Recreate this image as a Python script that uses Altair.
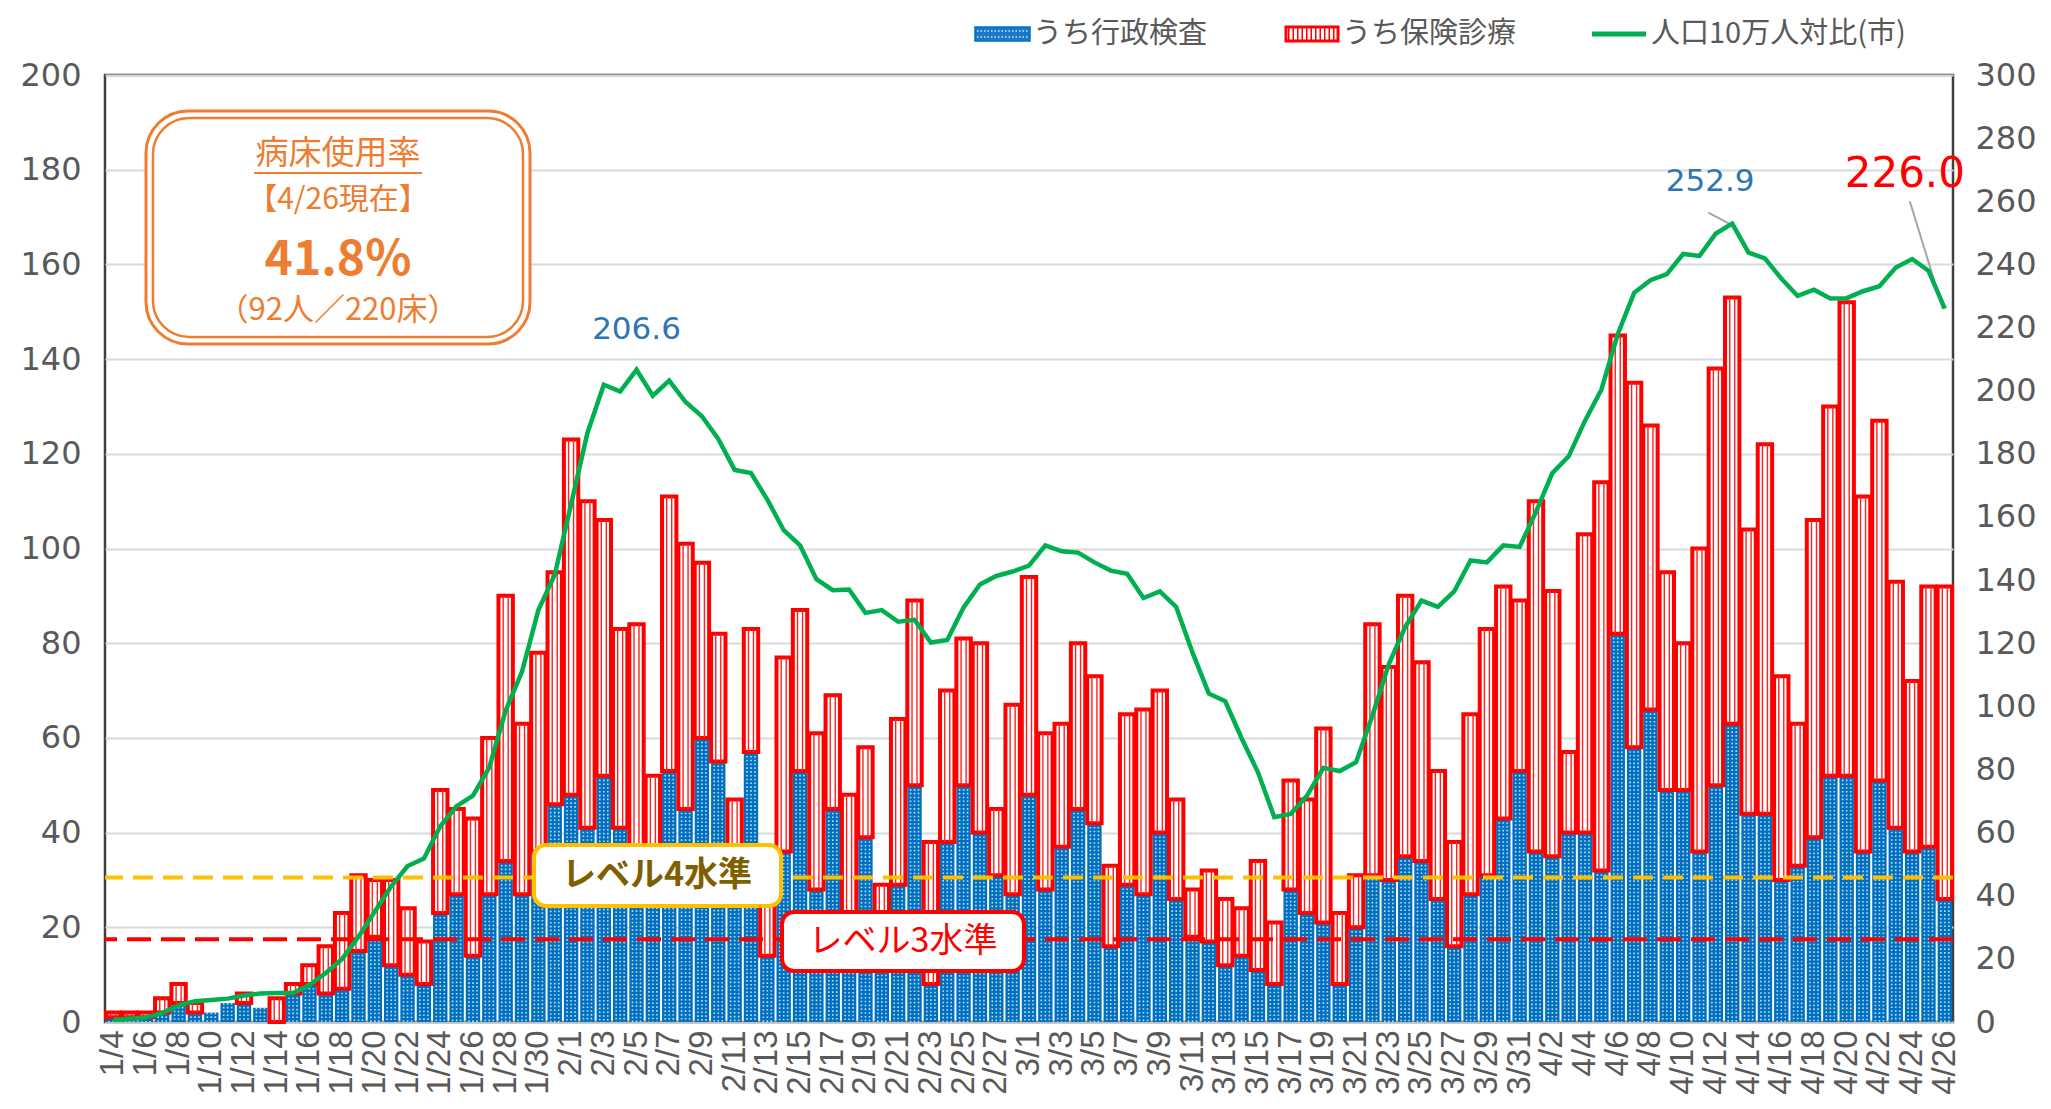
import altair as alt
import pandas as pd

# ---------------- data ----------------
dates = [f"{d.month}/{d.day}" for d in pd.date_range("2021-01-04", "2021-04-26")]

total = [2, 2, 2, 5, 8, 4, 2, 4, 6, 3, 5, 8, 12, 16, 23, 31, 30, 30, 24, 17, 49, 45, 43, 60, 90, 63, 78, 95,
         123, 110, 106, 83, 84, 52, 111, 101, 97, 82, 47, 83, 36, 77, 87, 61, 69, 48, 58, 29, 64, 89, 38, 70, 81, 80, 45, 67,
         94, 61, 63, 80, 73, 33, 65, 66, 70, 47, 28, 32, 26, 24, 34, 21, 51, 47, 62, 23, 31, 84, 75, 90, 76, 53, 38, 65, 83, 92, 89,
         110, 91, 57, 103, 114, 145, 135, 126, 95, 80, 100, 138, 153, 104, 122, 73, 63, 106, 130, 152, 111, 127, 93, 72, 92, 92]

gyosei = [1, 1, 1, 2, 4, 2, 2, 4, 4, 3, 0, 6, 8, 6, 7, 15, 18, 12, 10, 8, 23, 27, 14, 27, 34, 27, 36, 46,
          48, 41, 52, 41, 30, 29, 53, 45, 60, 55, 31, 57, 14, 36, 53, 28, 45, 20, 39, 18, 29, 50, 8, 38, 50, 40, 31, 27,
          48, 28, 37, 45, 42, 16, 29, 27, 40, 26, 18, 17, 12, 14, 11, 8, 28, 23, 21, 8, 20, 31, 30, 35, 34, 26, 16, 27, 31, 43, 53,
          36, 35, 40, 40, 32, 82, 58, 66, 49, 49, 36, 50, 63, 44, 44, 30, 33, 39, 52, 52, 36, 51, 41, 36, 37, 26]

rate = [0.6, 1.0, 1.4, 2.9, 5.3, 6.6, 7.0, 7.4, 8.4, 9.0, 9.2, 9.2, 11.7, 15.5, 20, 27, 35, 43, 49.4, 51.8, 62, 68.4, 71.7, 80.7, 98.7, 111, 130.5, 141.7,
        164, 186.6, 201.9, 199.7, 206.6, 198.4, 203.2, 196.4, 191.9, 184.7, 174.9, 173.9, 165.5, 155.8, 151, 140.3, 136.8, 137, 129.6, 130.5, 126.8, 127.4, 120.2, 121, 131.3, 138.6, 141.3, 142.7,
        144.6, 151, 149.1, 148.7, 145.6, 143, 142, 134.3, 136.4, 131.5, 117, 104, 101.6, 89.9, 79.1, 64.9, 65.9, 71.7, 80.5, 79.5, 82.3, 97.1, 113.3, 125.1, 133.5, 131.5, 136.4, 146.2, 145.6, 151, 150.5,
        161.6, 173.9, 179.2, 190.5, 200.3, 217.9, 231, 235, 236.9, 243.3, 242.7, 249.8, 252.9, 243.7, 241.9, 235.5, 230, 232, 229.2, 229.3, 231.5, 233.1, 239, 241.7, 238, 226.0]

level4 = 30.5
level3 = 17.5

legend_labels = ["うち行政検査", "うち保険診療", "人口10万人対比(市)"]
box_lines = ["病床使用率", "【4/26現在】", "41.8%", "（92人／220床）"]
level_labels = ["レベル4水準", "レベル3水準"]

df = pd.DataFrame({"date": dates, "total": total, "gyosei": gyosei, "rate": rate})

# ---------------- styles ----------------
W, H = 1848, 947
BLUE = "#0070C0"
RED = "#FF0000"
GREEN = "#00B050"
ORANGE = "#ED7D31"
GOLD = "#FFC000"
GRAY = "#595959"
JP = "Noto Sans CJK JP"
NUM = "DejaVu Sans"

xaxis = alt.Axis(values=dates[::2], labelAngle=270, labelFont="Liberation Sans", labelFontSize=33,
                 labelColor=GRAY, ticks=False, domainColor="#BFBFBF", domainWidth=2, labelPadding=8,
                 title=None)
xscale = alt.Scale(domain=dates, paddingInner=0.12, paddingOuter=0.06)


def X():
    return alt.X("date:N", sort=dates, scale=xscale, axis=xaxis)


lscale = alt.Scale(domain=[0, 200], nice=False, zero=True)
laxis = alt.Axis(values=list(range(0, 201, 20)), grid=True, gridColor="#D9D9D9", gridWidth=2,
                 domain=False, ticks=False, labelFont=NUM, labelFontSize=32, labelColor=GRAY,
                 labelPadding=24, title=None)
rscale = alt.Scale(domain=[0, 300], nice=False, zero=True)
raxis = alt.Axis(values=list(range(0, 301, 20)), grid=False, orient="right",
                 domain=False, ticks=False, labelFont=NUM, labelFontSize=32, labelColor=GRAY,
                 labelPadding=22, title=None)


def YL(field):
    return alt.Y(field, scale=lscale, axis=laxis, title=None)


def YR(field):
    return alt.Y(field, scale=rscale, axis=raxis, title=None)


base = alt.Chart(df)

# blue bars (行政検査) with dotted white pattern
blue = base.mark_bar(color=BLUE).encode(x=X(), y=YL("gyosei:Q"), y2=alt.datum(0))
blue_dots = [
    base.mark_rule(color="white", strokeWidth=1.6, strokeDash=[1.6, 2.2], opacity=0.75, xOffset=off)
    .encode(x=X(), y=YL("gyosei:Q"), y2=alt.datum(0))
    for off in (-4, 0, 4)
]

# red bars (保険診療) stacked on top
redbase = base.transform_filter("datum.total > datum.gyosei")
red = redbase.mark_bar(fill="white", stroke=RED, strokeWidth=4).encode(
    x=X(), y=YL("total:Q"), y2="gyosei:Q")
red_stripes = [
    redbase.mark_rule(color="#FF2020", strokeWidth=1.4, xOffset=off)
    .encode(x=X(), y=YL("total:Q"), y2="gyosei:Q")
    for off in (-2.5, 2.5)
]

# level lines
lv4 = alt.Chart(pd.DataFrame({"v": [level4]})).mark_rule(
    color=GOLD, strokeWidth=4, strokeDash=[20, 10]).encode(y=YL("v:Q"))
lv3 = alt.Chart(pd.DataFrame({"v": [level3]})).mark_rule(
    color=RED, strokeWidth=4, strokeDash=[24, 10]).encode(y=YL("v:Q"))

one = pd.DataFrame({"a": [0]})


def rect(x1, x2, y1, y2, **kw):
    return alt.Chart(one).mark_rect(**kw).encode(
        x=alt.value(x1), x2=alt.value(x2), y=alt.value(y1), y2=alt.value(y2))


def text(t, x, y, **kw):
    return alt.Chart(one).mark_text(text=t, **kw).encode(x=alt.value(x), y=alt.value(y))


def hline(x1, x2, y, **kw):
    return alt.Chart(one).mark_rule(**kw).encode(
        x=alt.value(x1), x2=alt.value(x2), y=alt.value(y))


# level label boxes
lv4_box = rect(429, 676, 770, 831, fill="white", stroke=GOLD, strokeWidth=4, cornerRadius=12)
lv4_txt = text(level_labels[0], 552, 801, font=JP, fontSize=34, fontWeight="bold", color="#7F6000",
               align="center", baseline="middle")
lv3_box = rect(677, 919, 837, 896, fill="white", stroke=RED, strokeWidth=4, cornerRadius=12)
lv3_txt = text(level_labels[1], 798, 867, font=JP, fontSize=34, color=RED,
               align="center", baseline="middle")

# bed occupancy box
bx_out = rect(41, 425, 36, 269, fill="white", stroke=ORANGE, strokeWidth=3, cornerRadius=42)
bx_in = rect(48, 418, 43, 262, fillOpacity=0, stroke=ORANGE, strokeWidth=2.5, cornerRadius=36)
bt1 = text(box_lines[0], 233, 79, font=JP, fontSize=33, color=ORANGE, align="center", baseline="middle")
bt1u = hline(149, 317, 98, color=ORANGE, strokeWidth=2)
bt2 = text(box_lines[1], 233, 125, font=JP, fontSize=30, color=ORANGE, align="center", baseline="middle")
bt3 = text(box_lines[2], 233, 186, font=JP, fontSize=48, fontWeight="bold", color=ORANGE,
           align="center", baseline="middle")
bt4 = text(box_lines[3], 233, 236, font=JP, fontSize=31, color=ORANGE, align="center", baseline="middle")

# legend
LY = -41
lg_blue = rect(870, 925, LY - 7, LY + 7, fill="#1A78C8", stroke=BLUE, strokeWidth=1.5)
lg_blue_d1 = hline(872, 923, LY - 3, color="white", strokeWidth=1.5, strokeDash=[1.5, 2], opacity=0.8)
lg_blue_d2 = hline(872, 923, LY + 3, color="white", strokeWidth=1.5, strokeDash=[1.5, 2], opacity=0.8)
lg_red = rect(1181, 1233, LY - 7, LY + 7, fill="white", stroke=RED, strokeWidth=3)
lg_red_s = hline(1183, 1231, LY, color=RED, strokeWidth=12, strokeDash=[1.5, 3])
lg_green = hline(1487, 1541, LY, color=GREEN, strokeWidth=5)
lg_t1 = text(legend_labels[0], 928, LY, font=JP, fontSize=29, color=GRAY, align="left", baseline="middle")
lg_t2 = text(legend_labels[1], 1237, LY, font=JP, fontSize=29, color=GRAY, align="left", baseline="middle")
lg_t3 = text(legend_labels[2], 1546, LY, font=JP, fontSize=29, color=GRAY, align="left", baseline="middle")

left = alt.layer(
    blue, *blue_dots, red, *red_stripes, lv4, lv3,
    lv4_box, lv4_txt, lv3_box, lv3_txt,
    bx_out, bx_in, bt1, bt1u, bt2, bt3, bt4,
    lg_blue, lg_blue_d1, lg_blue_d2, lg_red, lg_red_s, lg_green, lg_t1, lg_t2, lg_t3,
)

# right axis: line and peak labels
line = base.mark_line(color=GREEN, strokeWidth=4.5).encode(x=X(), y=YR("rate:Q"))

lab1 = base.transform_filter("datum.date == '2/5'").mark_text(
    font=NUM, fontSize=31, color="#2E75B6", dy=-40, align="center", baseline="middle"
).encode(x=X(), y=YR("rate:Q"), text=alt.Text("rate:Q", format=".1f"))
lab2 = base.transform_filter("datum.date == '4/13'").mark_text(
    font=NUM, fontSize=31, color="#2E75B6", dx=-22, dy=-42, align="center", baseline="middle"
).encode(x=X(), y=YR("rate:Q"), text=alt.Text("rate:Q", format=".1f"))
lab3 = base.transform_filter("datum.date == '4/26'").mark_text(
    font=NUM, fontSize=42, color=RED, dx=-40, dy=-135, align="center", baseline="middle"
).encode(x=X(), y=YR("rate:Q"), text=alt.Text("rate:Q", format=".1f"))

lead2 = base.transform_filter("datum.date == '4/13'").transform_calculate(
    ytop="datum.rate + 3.5").mark_rule(color="#A6A6A6", strokeWidth=2, xOffset=-24, x2Offset=-3).encode(
    x=X(), x2=alt.X2("date:N"), y=YR("ytop:Q"), y2="rate:Q")
lead3 = base.transform_filter("datum.date == '4/26'").transform_calculate(
    ytop="datum.rate + 34").mark_rule(color="#A6A6A6", strokeWidth=2, xOffset=-35, x2Offset=-2).encode(
    x=X(), x2=alt.X2("date:N"), y=YR("ytop:Q"), y2="rate:Q")

right = alt.layer(lead2, lead3, line, lab1, lab2, lab3)

chart = alt.layer(left, right).resolve_scale(y="independent").properties(
    width=W, height=H,
    autosize=alt.AutoSizeParams(type="none"),
    padding={"left": 97, "top": 67, "right": 90, "bottom": 79},
    background="white",
).configure_view(stroke="#404040", strokeWidth=2.5)

chart.save("out.html", embed_options={"renderer": "svg", "actions": False})
